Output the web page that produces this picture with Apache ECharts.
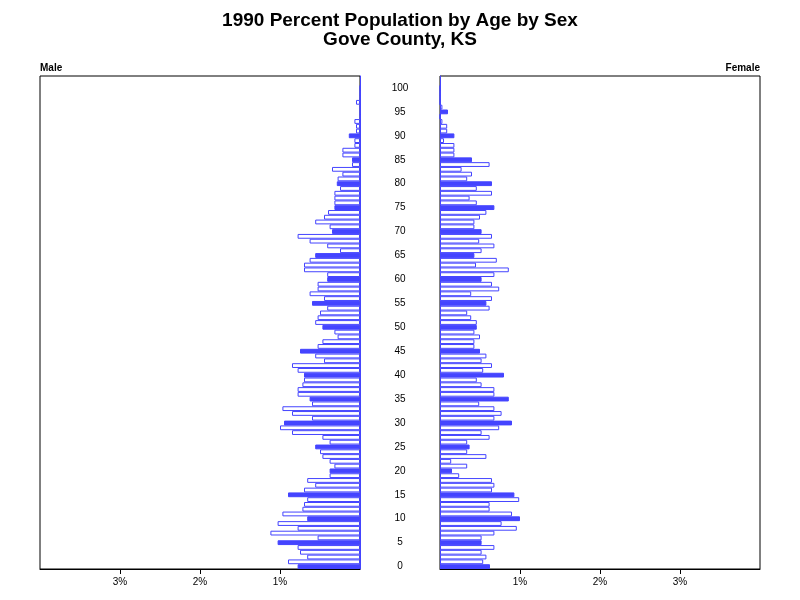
<!DOCTYPE html>
<html>
<head>
<meta charset="utf-8">
<script src="https://cdn.jsdelivr.net/npm/echarts@6/dist/echarts.min.js"></script>
<style>html,body{margin:0;padding:0;background:#fff}#c{width:800px;height:600px}</style>
</head>
<body>
<div id="c"></div>
<script>
// Ages 0..100 (axis extends to 102 for headroom)
const ages = Array.from({length: 103}, (_, i) => String(i));
const ageLabels = ['0','5','10','15','20','25','30','35','40','45','50','55','60','65','70','75','80','85','90','95','100'];
const pctTicks = [1, 2, 3];

// Percent of population, index = age
const male = [
  0.78, 0.90, 0.66, 0.75, 0.78, 1.03, 0.53, 1.12, 0.78, 1.03,
  0.66, 0.97, 0.72, 0.70, 0.66, 0.90, 0.70, 0.56, 0.66, 0.38,
  0.38, 0.32, 0.38, 0.47, 0.50, 0.56, 0.38, 0.47, 0.85, 1.00,
  0.95, 0.60, 0.85, 0.97, 0.60, 0.63, 0.78, 0.78, 0.72, 0.70,
  0.70, 0.78, 0.85, 0.45, 0.56, 0.75, 0.53, 0.47, 0.28, 0.32,
  0.47, 0.56, 0.53, 0.50, 0.41, 0.60, 0.45, 0.63, 0.53, 0.53,
  0.41, 0.41, 0.70, 0.70, 0.63, 0.56, 0.25, 0.41, 0.63, 0.78,
  0.35, 0.38, 0.56, 0.45, 0.40, 0.32, 0.32, 0.32, 0.32, 0.25,
  0.29, 0.28, 0.22, 0.35, 0.10, 0.10, 0.22, 0.22, 0.07, 0.07,
  0.14, 0.05, 0.05, 0.07, 0, 0, 0, 0.05, 0, 0,
  0
];
const female = [
  0.625, 0.54, 0.58, 0.52, 0.68, 0.52, 0.52, 0.68, 0.96, 0.77,
  1.00, 0.90, 0.62, 0.62, 0.99, 0.93, 0.65, 0.68, 0.65, 0.24,
  0.15, 0.34, 0.14, 0.58, 0.34, 0.37, 0.34, 0.62, 0.52, 0.74,
  0.90, 0.68, 0.77, 0.68, 0.49, 0.86, 0.68, 0.68, 0.52, 0.46,
  0.80, 0.54, 0.65, 0.52, 0.58, 0.50, 0.43, 0.43, 0.50, 0.43,
  0.46, 0.46, 0.39, 0.34, 0.62, 0.58, 0.65, 0.39, 0.74, 0.65,
  0.52, 0.68, 0.86, 0.45, 0.71, 0.43, 0.52, 0.68, 0.49, 0.65,
  0.52, 0.43, 0.43, 0.50, 0.58, 0.68, 0.46, 0.37, 0.65, 0.46,
  0.65, 0.34, 0.40, 0.27, 0.62, 0.40, 0.18, 0.18, 0.18, 0.05,
  0.18, 0.09, 0.09, 0.03, 0, 0.10, 0.03, 0, 0, 0,
  0
];

const BLUE = '#4444ff';
const FONT = 'Liberation Sans, Arial, sans-serif';

function toItems(arr) {
  return arr.map((v, i) => ({
    value: v,
    itemStyle: { color: (i % 5 === 0) ? BLUE : '#ffffff', borderColor: BLUE, borderWidth: 1 }
  }));
}

const chart = echarts.init(document.getElementById('c'), null, {renderer: 'canvas'});
const xCommon = (inverse) => ({
  type: 'value', min: 0, max: 4, interval: 1, inverse: inverse,
  splitLine: { show: false },
  axisLine: { show: true, lineStyle: { color: '#000', width: 1 } },
  axisTick: { show: true, length: 5, customValues: pctTicks, lineStyle: { color: '#000' } },
  axisLabel: { show: true, customValues: pctTicks, formatter: v => v + '%', margin: 8,
    fontFamily: FONT, fontSize: 10, color: '#000' }
});

chart.setOption({
  animation: false,
  backgroundColor: '#fff',
  title: {
    text: '1990 Percent Population by Age by Sex\nGove County, KS',
    left: 'center', top: 6,
    textStyle: { fontFamily: FONT, fontSize: 19, fontWeight: 'bold', lineHeight: 19, color: '#000' }
  },
  graphic: [
    { type: 'text', left: 40, top: 63, style: { text: 'Male', font: 'bold 10px ' + FONT, fill: '#000' } },
    { type: 'text', right: 40, top: 63, style: { text: 'Female', font: 'bold 10px ' + FONT, fill: '#000' } }
  ],
  grid: [
    { left: 40, width: 320, top: 76, height: 493, show: true, borderColor: '#000', borderWidth: 1, backgroundColor: 'transparent' },
    { left: 440, width: 320, top: 76, height: 493, show: true, borderColor: '#000', borderWidth: 1, backgroundColor: 'transparent' }
  ],
  xAxis: [
    Object.assign({ gridIndex: 0 }, xCommon(true)),
    Object.assign({ gridIndex: 1 }, xCommon(false))
  ],
  yAxis: [
    { gridIndex: 0, type: 'category', data: ages, position: 'right',
      axisLine: { show: true, lineStyle: { color: BLUE, width: 1 } },
      axisTick: { show: false }, axisLabel: { show: false }, splitLine: { show: false } },
    { gridIndex: 1, type: 'category', data: ages, position: 'left',
      axisLine: { show: true, lineStyle: { color: BLUE, width: 1 } },
      axisTick: { show: false }, splitLine: { show: false },
      axisLabel: { show: true, interval: 0, align: 'center', margin: 40,
        formatter: v => ageLabels.indexOf(v) >= 0 ? v : '',
        fontFamily: FONT, fontSize: 10, color: '#000' } }
  ],
  series: [
    { type: 'bar', xAxisIndex: 0, yAxisIndex: 0, barWidth: '100%', data: toItems(male), silent: true },
    { type: 'bar', xAxisIndex: 1, yAxisIndex: 1, barWidth: '100%', data: toItems(female), silent: true }
  ]
});
</script>
</body>
</html>
